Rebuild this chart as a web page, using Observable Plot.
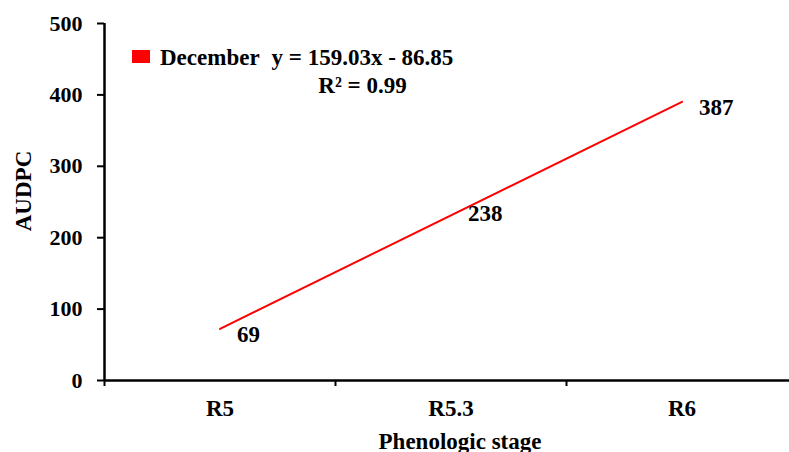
<!DOCTYPE html>
<html>
<head>
<meta charset="utf-8">
<script src="https://cdn.jsdelivr.net/npm/d3@7"></script>
<script src="https://cdn.jsdelivr.net/npm/@observablehq/plot@0.6"></script>
<style>
  html, body { margin: 0; padding: 0; background: #fff; overflow: hidden; }
  #wrap { position: relative; width: 789px; height: 452px; font-family: "Liberation Serif", "Times New Roman", serif; font-weight: bold; }
  #legend { position: absolute; left: 132px; top: 44px; display: flex; align-items: flex-start; font-size: 23px; color: #000; }
  #legend .sw { width: 18px; height: 13px; background: #ff0000; margin-top: 6px; margin-right: 10px; }
  #legend .eq { text-align: center; margin-left: 12px; line-height: 28px; }
  #legend .name { line-height: 28px; }
</style>
</head>
<body>
<div id="wrap"></div>
<script>
const categories = ["R5", "R5.3", "R6"];
const values = [69, 238, 387];
const seriesName = "December";
const equation = "y = 159.03x - 86.85";
const rSquared = "R² = 0.99";
const yTicks = [0, 100, 200, 300, 400, 500];
const xLabel = "Phenologic stage";
const yLabel = "AUDPC";

const data = categories.map((c, i) => ({pos: i + 1, cat: c, v: values[i]}));
const bounds = d3.range(categories.length + 1).map(i => i + 0.5);

const plot = Plot.plot({
  width: 789,
  height: 452,
  marginLeft: 104,
  marginTop: 23,
  marginBottom: 72,
  marginRight: 0,
  style: {fontFamily: '"Liberation Serif", "Times New Roman", serif', fontWeight: "bold", fontSize: "23px", color: "#000", background: "#fff"},
  x: {type: "linear", domain: [0.5, categories.length + 0.5], range: [104, 797]},
  y: {domain: [0, 500]},
  marks: [
    Plot.axisY({ticks: yTicks, tickSize: 7, tickPadding: 15, strokeWidth: 2, fontSize: 22, label: null}),
    Plot.axisX({ticks: data.map(d => d.pos), tickSize: 0, tickPadding: 19, tickFormat: p => categories[p - 1], label: null}),
    Plot.axisX({ticks: bounds, tickSize: 6, strokeWidth: 2, tickFormat: () => "", label: null}),
    Plot.ruleY([0], {strokeWidth: 2.5}),
    Plot.ruleX([0.5], {y1: 0, y2: 500, strokeWidth: 2.5}),
    Plot.linearRegressionY(data, {x: "pos", y: "v", stroke: "#ff0000", strokeWidth: 2, ci: 0}),
    Plot.text(data, {x: "pos", y: "v", text: d => String(d.v), textAnchor: "start", dx: 17, dy: 3, fontSize: 23}),
    Plot.text([xLabel], {frameAnchor: "bottom", text: d => d, dy: 68, dx: 13, fontSize: 23}),
    Plot.text([yLabel], {frameAnchor: "left", text: d => d, rotate: -90, textAnchor: "middle", lineAnchor: "middle", dx: -81, dy: -11, fontSize: 23})
  ]
});
const wrap = document.getElementById("wrap");
wrap.appendChild(plot);
const lg = document.createElement("div");
lg.id = "legend";
lg.innerHTML = `<div class="sw"></div><div class="name">${seriesName}</div><div class="eq">${equation}<br>${rSquared}</div>`;
wrap.appendChild(lg);
</script>
</body>
</html>
